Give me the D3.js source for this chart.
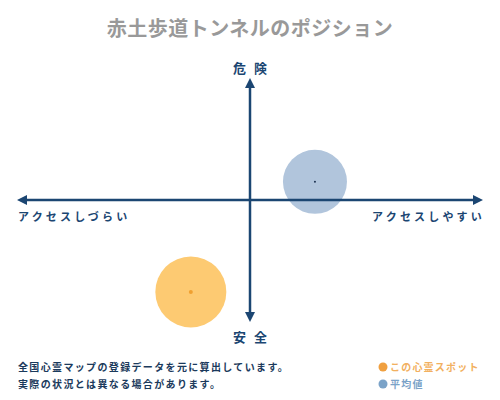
<!DOCTYPE html>
<html>
<head>
<meta charset="utf-8">
<script src="https://cdn.jsdelivr.net/npm/d3@7"></script>
<style>
  body { margin: 0; background: #fff; }
  text { font-family: "Noto Sans CJK JP", sans-serif; }
</style>
</head>
<body>
<div id="chart"></div>
<script>
// データ
var spotNames = ["この心霊スポット", "平均値"];
var spotX = [-2.55, 2.8];     // アクセス (-10 しづらい ～ 10 やすい)
var spotY = [-7.6, 1.5];      // 危険度 (-10 安全 ～ 10 危険)
var spotR = [35.5, 32];
var axisLabels = ["危険", "安全", "アクセスしづらい", "アクセスしやすい"];
var notes = ["全国心霊マップの登録データを元に算出しています。", "実際の状況とは異なる場合があります。"];

var W = 500, H = 400;
var navy = "#1b4672";
var fills = ["#fdca72", "#b1c5dc"];
var dots = ["#f0a030", "#1b3050"];
var legendCols = ["#f0a040", "#7ba3c8"];

var svg = d3.select("#chart").append("svg")
  .attr("width", W).attr("height", H);

var x = d3.scaleLinear().domain([-10, 10]).range([18, 482]);
var y = d3.scaleLinear().domain([-10, 10]).range([321, 79]);

// タイトル
svg.append("text")
  .attr("x", 250).attr("y", 36)
  .attr("text-anchor", "middle")
  .style("font-size", "20px").style("font-weight", "bold")
  .style("letter-spacing", "0.5px")
  .style("fill", "#999")
  .text("赤土歩道トンネルのポジション");

// 円
var data = spotNames.map(function(d, i) {
  return {name: d, x: spotX[i], y: spotY[i], r: spotR[i], i: i};
});

svg.selectAll("circle.spot").data(data).enter()
  .append("circle").attr("class", "spot")
  .attr("cx", function(d) { return x(d.x); })
  .attr("cy", function(d) { return y(d.y); })
  .attr("r", function(d) { return d.r; })
  .attr("fill", function(d) { return fills[d.i]; });

svg.selectAll("circle.dot").data(data).enter()
  .append("circle").attr("class", "dot")
  .attr("cx", function(d) { return x(d.x); })
  .attr("cy", function(d) { return y(d.y); })
  .attr("r", function(d) { return d.i == 0 ? 2 : 1; })
  .attr("fill", function(d) { return dots[d.i]; });

// 矢印
var defs = svg.append("defs");
defs.append("marker")
  .attr("id", "arr")
  .attr("viewBox", "0 0 10 10")
  .attr("refX", 5).attr("refY", 5)
  .attr("markerWidth", 4).attr("markerHeight", 4)
  .attr("orient", "auto-start-reverse")
  .append("path")
    .attr("d", "M0,0 L10,5 L0,10 z")
    .attr("fill", navy);

svg.append("line")
  .attr("x1", x(-10) + 4).attr("x2", x(10) - 4)
  .attr("y1", y(0)).attr("y2", y(0))
  .attr("stroke", navy).attr("stroke-width", 2.5)
  .attr("marker-start", "url(#arr)").attr("marker-end", "url(#arr)");

svg.append("line")
  .attr("x1", x(0)).attr("x2", x(0))
  .attr("y1", y(10) + 4).attr("y2", y(-10) - 4)
  .attr("stroke", navy).attr("stroke-width", 2.5)
  .attr("marker-start", "url(#arr)").attr("marker-end", "url(#arr)");

// 軸ラベル
svg.append("text").attr("x", x(0) + 4).attr("y", 73)
  .attr("text-anchor", "middle")
  .style("font-size", "13px").style("font-weight", "bold").style("fill", navy)
  .style("letter-spacing", "8px")
  .text(axisLabels[0]);
svg.append("text").attr("x", x(0) + 4).attr("y", 342)
  .attr("text-anchor", "middle")
  .style("font-size", "13px").style("font-weight", "bold").style("fill", navy)
  .style("letter-spacing", "8px")
  .text(axisLabels[1]);
svg.append("text").attr("x", 18).attr("y", 221)
  .style("font-size", "11px").style("font-weight", "bold").style("fill", navy)
  .style("letter-spacing", "3.2px")
  .text(axisLabels[2]);
svg.append("text").attr("x", 485).attr("y", 221)
  .attr("text-anchor", "end")
  .style("font-size", "11px").style("font-weight", "bold").style("fill", navy)
  .style("letter-spacing", "3.2px")
  .text(axisLabels[3]);

// 注記
svg.selectAll("text.note").data(notes).enter()
  .append("text").attr("class", "note")
  .attr("x", 18).attr("y", function(d, i) { return 371 + i * 17; })
  .style("font-size", "10px").style("font-weight", "bold").style("fill", "#1b3a5c")
  .style("letter-spacing", "1.35px")
  .text(function(d) { return d; });

// 凡例
var leg = svg.selectAll("g.leg").data(data).enter()
  .append("g").attr("class", "leg")
  .attr("transform", function(d, i) { return "translate(383," + (367 + i * 17) + ")"; });
leg.append("circle").attr("r", 4.5)
  .attr("fill", function(d) { return legendCols[d.i]; });
leg.append("text").attr("x", 7).attr("y", 4)
  .style("font-size", "10px").style("font-weight", "bold")
  .style("letter-spacing", "1.2px")
  .style("fill", function(d) { return d.i == 0 ? "#f2b060" : "#7ba3c8"; })
  .text(function(d) { return d.name; });
</script>
</body>
</html>
